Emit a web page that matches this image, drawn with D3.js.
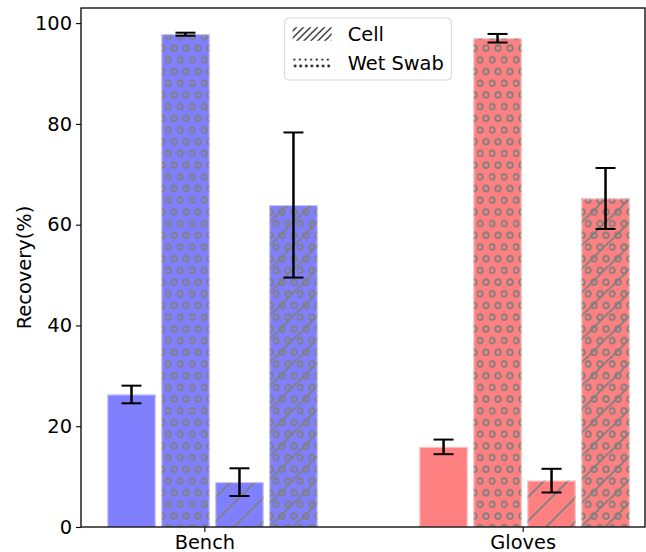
<!DOCTYPE html>
<html>
<head>
<meta charset="utf-8">
<script src="https://cdn.jsdelivr.net/npm/d3@7"></script>
<style>
  body { margin: 0; background: white; }
  svg text { font-family: "DejaVu Sans", sans-serif; }
</style>
</head>
<body>
<svg width="646" height="552"></svg>
<script>
var groups = ["Bench", "Gloves"];
var groupColors = ["#8080ff", "#ff8080"];
var benchMeans = [26.3, 97.8, 8.9, 63.9];
var benchErrs = [1.75, 0.3, 2.75, 14.4];
var glovesMeans = [15.9, 97.0, 9.2, 65.2];
var glovesErrs = [1.45, 0.85, 2.35, 6.05];
var barHatches = ["none", "circles", "diag", "both"];
var yTicks = [0, 20, 40, 60, 80, 100];
var legendLabels = ["Cell", "Wet Swab"];

var screen = { width: 646, height: 552 };
var margins = { top: 8, bottom: 25, left: 81, right: 1 };

var width = screen.width - margins.left - margins.right;
var height = screen.height - margins.top - margins.bottom;

var barStep = 0.173;
var barW = 0.155;

var xScale = d3.scaleLinear()
  .domain([-0.0843, 1.723])
  .range([0, width]);

var yScale = d3.scaleLinear()
  .domain([0, 103])
  .range([height, 0]);

var svg = d3.select("svg");
var defs = svg.append("defs");

// hatch patterns
var hatchColor = "#808080";
var pc = defs.append("pattern").attr("id", "circles")
  .attr("patternUnits", "userSpaceOnUse")
  .attr("width", 12).attr("height", 23.4);
[[3, 5], [9, 16.7], [-3, 16.7]].forEach(function(p) {
  pc.append("circle").attr("cx", p[0]).attr("cy", p[1]).attr("r", 2.8)
    .attr("fill", "none").attr("stroke", hatchColor).attr("stroke-width", 1.8);
});

var pd = defs.append("pattern").attr("id", "diag")
  .attr("patternUnits", "userSpaceOnUse")
  .attr("width", 24).attr("height", 24);
pd.append("path").attr("d", "M-6,6 L6,-6 M0,24 L24,0 M18,30 L30,18")
  .attr("stroke", hatchColor).attr("stroke-width", 1.8);

var pb = defs.append("pattern").attr("id", "both")
  .attr("patternUnits", "userSpaceOnUse")
  .attr("width", 24).attr("height", 23.4);
[[3, 5], [15, 5], [9, 16.7], [21, 16.7], [-3, 16.7]].forEach(function(p) {
  pb.append("circle").attr("cx", p[0]).attr("cy", p[1]).attr("r", 2.8)
    .attr("fill", "none").attr("stroke", hatchColor).attr("stroke-width", 1.8);
});
pb.append("path").attr("d", "M-6,6 L6,-6 M0,24 L24,0 M18,30 L30,18")
  .attr("stroke", hatchColor).attr("stroke-width", 1.8);

// legend patterns
var lp1 = defs.append("pattern").attr("id", "legCell")
  .attr("patternUnits", "userSpaceOnUse")
  .attr("width", 7).attr("height", 7);
lp1.append("path").attr("d", "M-2,2 L2,-2 M0,7 L7,0 M5,9 L9,5")
  .attr("stroke", "black").attr("stroke-width", 1.2);

var lp2 = defs.append("pattern").attr("id", "legSwab")
  .attr("patternUnits", "userSpaceOnUse")
  .attr("x", 8).attr("y", 37.9)
  .attr("width", 5.6).attr("height", 13.6);
[[1.6, 3.6, 1.05], [2.4, 10, 1.35]].forEach(function(p) {
  lp2.append("circle").attr("cx", p[0]).attr("cy", p[1]).attr("r", p[2]).attr("fill", "black");
});

var g = svg.append("g")
  .attr("transform", "translate(" + margins.left + "," + margins.top + ")");

var data = [];
groups.forEach(function(name, gi) {
  var means = gi == 0 ? benchMeans : glovesMeans;
  var errs = gi == 0 ? benchErrs : glovesErrs;
  means.forEach(function(m, i) {
    data.push({ group: gi, idx: i, mean: m, err: errs[i], x: gi + i * barStep });
  });
});

var bars = g.selectAll(".bar")
  .data(data)
  .enter()
  .append("g");

bars.append("rect")
  .attr("x", function(d) { return xScale(d.x); })
  .attr("y", function(d) { return yScale(d.mean); })
  .attr("width", function(d) { return xScale(d.x + barW) - xScale(d.x); })
  .attr("height", function(d) { return yScale(0) - yScale(d.mean); })
  .attr("fill", function(d) { return groupColors[d.group]; });

bars.filter(function(d) { return barHatches[d.idx] != "none"; })
  .append("rect")
  .attr("x", function(d) { return xScale(d.x); })
  .attr("y", function(d) { return yScale(d.mean); })
  .attr("width", function(d) { return xScale(d.x + barW) - xScale(d.x); })
  .attr("height", function(d) { return yScale(0) - yScale(d.mean); })
  .attr("fill", function(d) { return "url(#" + barHatches[d.idx] + ")"; });

bars.append("rect")
  .attr("x", function(d) { return xScale(d.x) + 0.5; })
  .attr("y", function(d) { return yScale(d.mean) + 0.5; })
  .attr("width", function(d) { return xScale(d.x + barW) - xScale(d.x) - 1; })
  .attr("height", function(d) { return yScale(0) - yScale(d.mean) - 0.5; })
  .attr("fill", "none")
  .attr("stroke", "rgba(255,255,255,0.55)")
  .attr("stroke-width", 1);

// error bars
var cx = function(d) { return xScale(d.x + barW / 2); };
bars.append("line")
  .attr("x1", cx).attr("x2", cx)
  .attr("y1", function(d) { return yScale(d.mean + d.err); })
  .attr("y2", function(d) { return yScale(d.mean - d.err); })
  .attr("stroke", "black").attr("stroke-width", 2.5);
[1, -1].forEach(function(s) {
  bars.append("line")
    .attr("x1", function(d) { return cx(d) - 10; })
    .attr("x2", function(d) { return cx(d) + 10; })
    .attr("y1", function(d) { return yScale(d.mean + s * d.err); })
    .attr("y2", function(d) { return yScale(d.mean + s * d.err); })
    .attr("stroke", "black").attr("stroke-width", 2);
});

// axes
var yAxis = d3.axisLeft(yScale).tickValues(yTicks).tickSize(5).tickPadding(4);
var yG = g.append("g").call(yAxis);
yG.select(".domain").remove();
yG.selectAll("text").attr("font-size", "19.4px").attr("fill", "black")
  .attr("font-family", "DejaVu Sans");
yG.selectAll("line").attr("stroke", "black").attr("stroke-width", 1.1);

var tickPos = [0 + 0.311, 1 + 0.331];
var xAxis = d3.axisBottom(xScale).tickValues(tickPos)
  .tickFormat(function(d, i) { return groups[i]; })
  .tickSize(5).tickPadding(3);
var xG = g.append("g").attr("transform", "translate(0," + height + ")").call(xAxis);
xG.select(".domain").remove();
xG.selectAll("text").attr("font-size", "19.4px").attr("fill", "black")
  .attr("font-family", "DejaVu Sans");
xG.selectAll("line").attr("stroke", "black").attr("stroke-width", 1.1);

g.append("rect")
  .attr("x", 0).attr("y", 0)
  .attr("width", width).attr("height", height)
  .attr("fill", "none").attr("stroke", "black").attr("stroke-width", 1.3);

svg.append("text")
  .attr("transform", "translate(31," + (margins.top + height / 2) + ") rotate(-90)")
  .attr("text-anchor", "middle")
  .attr("font-size", "19.4px")
  .text("Recovery(%)");

// legend
var leg = svg.append("g").attr("transform", "translate(284.7,18)");
leg.append("rect")
  .attr("width", 166.6).attr("height", 62).attr("rx", 4)
  .attr("fill", "white").attr("fill-opacity", 0.8)
  .attr("stroke", "#d6d6d6").attr("stroke-width", 1);
legendLabels.forEach(function(lab, i) {
  var yy = 16 + i * 28.7;
  leg.append("rect")
    .attr("x", 8).attr("y", yy - 6.8).attr("width", 39).attr("height", 13.6)
    .attr("fill", i == 0 ? "url(#legCell)" : "url(#legSwab)");
  leg.append("text")
    .attr("x", 63).attr("y", yy + 7)
    .attr("font-size", "19.4px")
    .text(lab);
});
</script>
</body>
</html>
